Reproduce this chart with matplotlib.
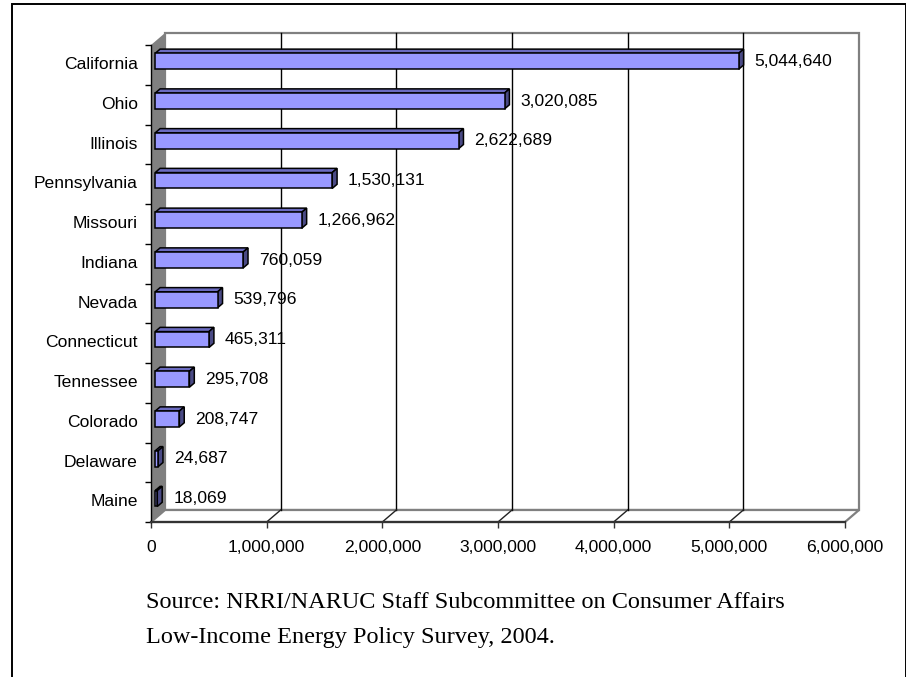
import matplotlib
matplotlib.use("Agg")
import matplotlib.pyplot as plt
from matplotlib.patches import Polygon, Rectangle
from matplotlib.ticker import FuncFormatter

# Households eligible / served, by state
states = ["California", "Ohio", "Illinois", "Pennsylvania", "Missouri", "Indiana",
          "Nevada", "Connecticut", "Tennessee", "Colorado", "Delaware", "Maine"]
households = [5044640, 3020085, 2622689, 1530131, 1266962, 760059,
              539796, 465311, 295708, 208747, 24687, 18069]
x_ticks = [0, 1000000, 2000000, 3000000, 4000000, 5000000, 6000000]
source_lines = ["Source: NRRI/NARUC Staff Subcommittee on Consumer Affairs",
                "Low-Income Energy Policy Survey, 2004."]

SANS = "Liberation Sans"
SERIF = "Liberation Serif"
FS = 12.6

W, H = 906, 677
fig = plt.figure(figsize=(W / 100, H / 100), dpi=100)
fig.patch.set_facecolor("white")


def fx(px):
    return px / W


def fy(py):
    return 1 - py / H


# front plane of the 3-D plot box
left_px, right_px, top_px, bot_px = 151, 845, 45, 522
ax = fig.add_axes([fx(left_px), fy(bot_px), fx(right_px) - fx(left_px), fy(top_px) - fy(bot_px)])
n = len(states)
xmax = x_ticks[-1]
ax.set_xlim(0, xmax)
ax.set_ylim(n, 0)
ax.patch.set_visible(False)

# depth of the box expressed in data units
px_per_x = (right_px - left_px) / xmax
px_per_cat = (bot_px - top_px) / n
DX = 14 / px_per_x
DY = 12 / px_per_cat

wall_gray = "#808080"

# left side wall
ax.add_patch(Polygon([(0, 0), (DX, -DY), (DX, n - DY), (0, n)], closed=True,
                     facecolor=wall_gray, edgecolor="none", clip_on=False, zorder=1))
# back wall
ax.add_patch(Polygon([(DX, -DY), (xmax + DX, -DY), (xmax + DX, n - DY), (DX, n - DY)], closed=True,
                     facecolor="white", edgecolor=wall_gray, lw=1.6, clip_on=False, zorder=1))
# floor
ax.add_patch(Polygon([(0, n), (xmax, n), (xmax + DX, n - DY), (DX, n - DY)], closed=True,
                     facecolor="white", edgecolor=wall_gray, lw=1.6, clip_on=False, zorder=1.1))

# gridlines on back wall and floor
for t in x_ticks[1:-1]:
    ax.plot([t + DX, t + DX], [-DY, n - DY], color="black", lw=1.0, clip_on=False, zorder=1.2)
    ax.plot([t + DX, t], [n - DY, n], color="#222222", lw=1.0, clip_on=False, zorder=1.2)

# 3-D bars
bar_h = 0.4
f0, f1 = 0.3, 0.65
front_c = "#9999FF"
top_c = "#6B6BC0"
side_c = "#4A4A85"
ddx = (f1 - f0) * DX
ddy = (f1 - f0) * DY
for i, v in enumerate(households):
    yc = i + 0.5 - f0 * DY
    yt, yb = yc - bar_h / 2, yc + bar_h / 2
    x0 = f0 * DX
    x1 = v + f0 * DX
    kw = dict(closed=True, edgecolor="black", lw=1.1, joinstyle="miter", clip_on=False, zorder=3)
    ax.add_patch(Polygon([(x0, yt), (x1, yt), (x1 + ddx, yt - ddy), (x0 + ddx, yt - ddy)],
                         facecolor=top_c, **kw))
    ax.add_patch(Polygon([(x1, yt), (x1 + ddx, yt - ddy), (x1 + ddx, yb - ddy), (x1, yb)],
                         facecolor=side_c, **kw))
    ax.add_patch(Polygon([(x0, yt), (x1, yt), (x1, yb), (x0, yb)],
                         facecolor=front_c, **kw))
    ax.annotate(f"{v:,}", xy=(x1 + ddx, yc), xytext=(11 * 0.72, 0), textcoords="offset points",
                ha="left", va="center", fontsize=FS, family=SANS, color="black",
                annotation_clip=False, zorder=4)

# axes, ticks and labels
for s in ("top", "right"):
    ax.spines[s].set_visible(False)
ax.spines["left"].set_color("black")
ax.spines["left"].set_linewidth(1.0)
ax.spines["bottom"].set_color("#333333")
ax.spines["bottom"].set_linewidth(1.6)
ax.spines["left"].set_zorder(2)
ax.spines["bottom"].set_zorder(2)

ax.set_xticks(x_ticks)
ax.xaxis.set_major_formatter(FuncFormatter(lambda v, p: f"{int(v):,}"))
ax.tick_params(axis="x", direction="out", length=4, width=1, color="#333333",
               pad=9, labelsize=FS)
ax.set_yticks(range(n + 1))
ax.set_yticklabels([])
ax.tick_params(axis="y", which="major", direction="out", length=4.3, width=1, color="black")
# category labels sit level with the middle of the bar depth
ax.set_yticks([i + 0.5 - 0.5 * f0 * DY for i in range(n)], minor=True)
ax.set_yticklabels(states, minor=True)
ax.tick_params(axis="y", which="minor", length=0, pad=9.4, labelsize=FS)
for lab in ax.get_xticklabels() + ax.get_yticklabels(minor=True):
    lab.set_family(SANS)

# source note
fig.text(fx(146), fy(603), source_lines[0], family=SERIF, fontsize=17.5, va="center", ha="left")
fig.text(fx(146), fy(637), source_lines[1], family=SERIF, fontsize=17.5, va="center", ha="left")

# outer frame
fig.add_artist(Rectangle((fx(11.5), fy(720)), fx(905.5) - fx(11.5), fy(4.5) - fy(720),
                         transform=fig.transFigure, fill=False, edgecolor="black", lw=1.4))

fig.savefig("out.png", dpi=100)
